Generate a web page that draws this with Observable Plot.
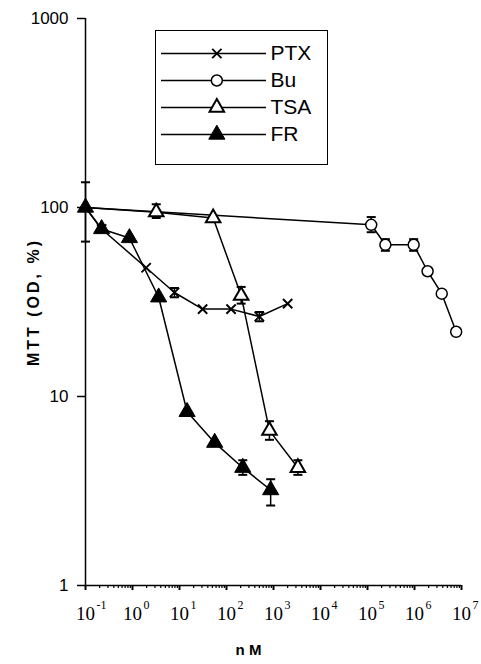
<!DOCTYPE html>
<html><head><meta charset="utf-8">
<script src="https://cdn.jsdelivr.net/npm/d3@7"></script>
<script src="https://cdn.jsdelivr.net/npm/@observablehq/plot@0.6"></script>
<style>
html,body{margin:0;padding:0;background:#fff;}
#wrap{position:relative;width:481px;height:664px;overflow:hidden;}
#legend{position:absolute;left:155px;top:30px;width:173px;height:135px;border:1.5px solid #000;box-sizing:border-box;background:#fff;}
#legend svg, #chart svg{display:block;}
</style></head><body>
<div id="wrap"><div id="chart"></div><div id="legend"></div></div>
<script>
// ---- data ----
const seriesNames = ["PTX", "Bu", "TSA", "FR"];

const ptxX = [0.1, 0.22, 1.95, 7.8, 31, 125, 500, 2000];
const ptxY = [100, 77, 48, 35.5, 29, 29, 26.5, 31];
const ptxLo = [null, null, null, 33.5, null, null, 25, null];
const ptxHi = [null, null, null, 37.5, null, null, 28, null];

const buX = [0.1, 1.2e5, 2.4e5, 9.6e5, 1.9e6, 3.8e6, 7.7e6];
const buY = [100, 81, 63.5, 63.5, 46, 35, 22];
const buLo = [null, 74, 59, 59, null, null, null];
const buHi = [null, 89, 68, 68, null, null, null];

const tsaX = [0.1, 3.2, 52, 205, 820, 3300];
const tsaY = [100, 94.5, 88, 34.2, 6.6, 4.2];
const tsaLo = [null, 88, null, 31, 5.9, 3.85];
const tsaHi = [null, 104, null, 38, 7.4, 4.6];

const frX = [0.1, 0.22, 0.86, 3.6, 14.5, 56, 222, 870];
const frY = [100, 77, 69, 33.5, 8.3, 5.7, 4.2, 3.2];
const frLo = [66, null, null, null, null, null, 3.85, 2.65];
const frHi = [136, null, null, null, null, null, 4.6, 3.65];

const xExponents = [-1, 0, 1, 2, 3, 4, 5, 6, 7];
const yTicks = [1, 10, 100, 1000];
const xLabel = "n M";
const yLabel = "MTT (OD, %)";

// ---- build table ----
const src = {
  PTX: [ptxX, ptxY, ptxLo, ptxHi],
  Bu: [buX, buY, buLo, buHi],
  TSA: [tsaX, tsaY, tsaLo, tsaHi],
  FR: [frX, frY, frLo, frHi]
};
const rows = [];
for (const s of seriesNames) {
  const [X, Y, L, H] = src[s];
  X.forEach((x, i) => rows.push({series: s, x, y: Y[i], lo: L[i], hi: H[i], i}));
}
const errRows = rows.filter(d => d.lo != null);

const styleOf = {
  PTX: {symbol: "times", r: 4.3, stroke: "black", strokeWidth: 1.9, fill: "none"},
  Bu: {symbol: "circle", r: 5.5, stroke: "black", strokeWidth: 1.5, fill: "white"},
  TSA: {symbol: "triangle", r: 5.4, stroke: "black", strokeWidth: 2, fill: "white"},
  FR: {symbol: "triangle", r: 6, stroke: "black", strokeWidth: 1, fill: "black"}
};

const cap = {draw(ctx, size) { const w = Math.sqrt(size / Math.PI); ctx.moveTo(-w, 0); ctx.lineTo(w, 0); }};

const majorTicks = xExponents.map(e => Math.pow(10, e));
const minorTicks = [];
for (const e of xExponents.slice(0, -1)) for (let m = 2; m <= 9; m++) minorTicks.push(m * Math.pow(10, e));

const serif = "Liberation Serif, Times New Roman, serif";
const sans = "Liberation Sans, Arial, Helvetica, sans-serif";

const markerMarks = seriesNames.map(s =>
  Plot.dot(rows.filter(d => d.series === s && (s === "FR" || d.i > 0)), {x: "x", y: "y", ...styleOf[s]})
);

const chart = Plot.plot({
  width: 481, height: 664,
  marginLeft: 85, marginRight: 20, marginTop: 18, marginBottom: 79,
  style: {fontFamily: sans, background: "white", color: "black"},
  x: {type: "log", domain: [0.1, 1e7], axis: null},
  y: {type: "log", domain: [1, 1000], axis: null},
  marks: [
    Plot.axisY({ticks: yTicks, tickFormat: d => String(d), tickSize: 8, tickPadding: 9, fontSize: 17, strokeWidth: 1.5, label: null}),
    Plot.axisX({ticks: minorTicks, tickSize: 3, tickFormat: () => "", strokeWidth: 1.2, label: null}),
    Plot.axisX({ticks: majorTicks, tickSize: 5, tickFormat: () => "", strokeWidth: 2, label: null}),
    Plot.ruleX([0.1], {stroke: "black", strokeWidth: 1.5}),
    Plot.ruleY([1], {stroke: "black", strokeWidth: 1.5}),
    Plot.text(majorTicks, {x: d => d, frameAnchor: "bottom", text: () => "10", dy: 28, lineAnchor: "middle", fontSize: 19, fontFamily: serif}),
    Plot.text(xExponents, {x: e => Math.pow(10, e), frameAnchor: "bottom", text: e => String(e), dx: 11, dy: 20, textAnchor: "start", lineAnchor: "middle", fontSize: 12, fontFamily: serif}),
    Plot.text([yLabel], {frameAnchor: "left", dx: -52, rotate: -90, textAnchor: "middle", lineAnchor: "middle", fontSize: 16, fontWeight: "bold", fontFamily: sans}),
    Plot.text([xLabel], {frameAnchor: "bottom", dx: -25, dy: 65, textAnchor: "middle", lineAnchor: "middle", fontSize: 15, fontWeight: "bold", fontFamily: sans}),
    Plot.line(rows, {x: "x", y: "y", z: "series", stroke: "black", strokeWidth: 1.5}),
    Plot.ruleX(errRows, {x: "x", y1: "lo", y2: "hi", stroke: "black", strokeWidth: 1.5}),
    Plot.dot(errRows, {x: "x", y: "lo", symbol: cap, r: 4.5, stroke: "black", strokeWidth: 2}),
    Plot.dot(errRows, {x: "x", y: "hi", symbol: cap, r: 4.5, stroke: "black", strokeWidth: 2}),
    ...markerMarks
  ]
});
d3.select(chart).selectAll("text").filter(function () { return this.textContent === yLabel; })
  .style("letter-spacing", "3px");
document.getElementById("chart").appendChild(chart);

// ---- legend (its own small Plot) ----
const legend = Plot.plot({
  width: 170, height: 132,
  marginLeft: 5, marginRight: 60, marginTop: 0, marginBottom: 0,
  style: {fontFamily: sans, background: "white", color: "black"},
  x: {domain: [0, 1], axis: null},
  y: {type: "point", domain: seriesNames, range: [20.5, 103.5], padding: 0, axis: null},
  marks: [
    Plot.ruleY(seriesNames, {y: d => d, x1: 0, x2: 1, stroke: "black", strokeWidth: 1.5}),
    ...seriesNames.map(s => Plot.dot([s], {x: 0.527, y: d => d, ...styleOf[s]})),
    Plot.text(seriesNames, {x: 1, y: d => d, dx: 4, textAnchor: "start", fontSize: 21, fontFamily: sans})
  ]
});
document.getElementById("legend").appendChild(legend);
</script>
</body></html>
